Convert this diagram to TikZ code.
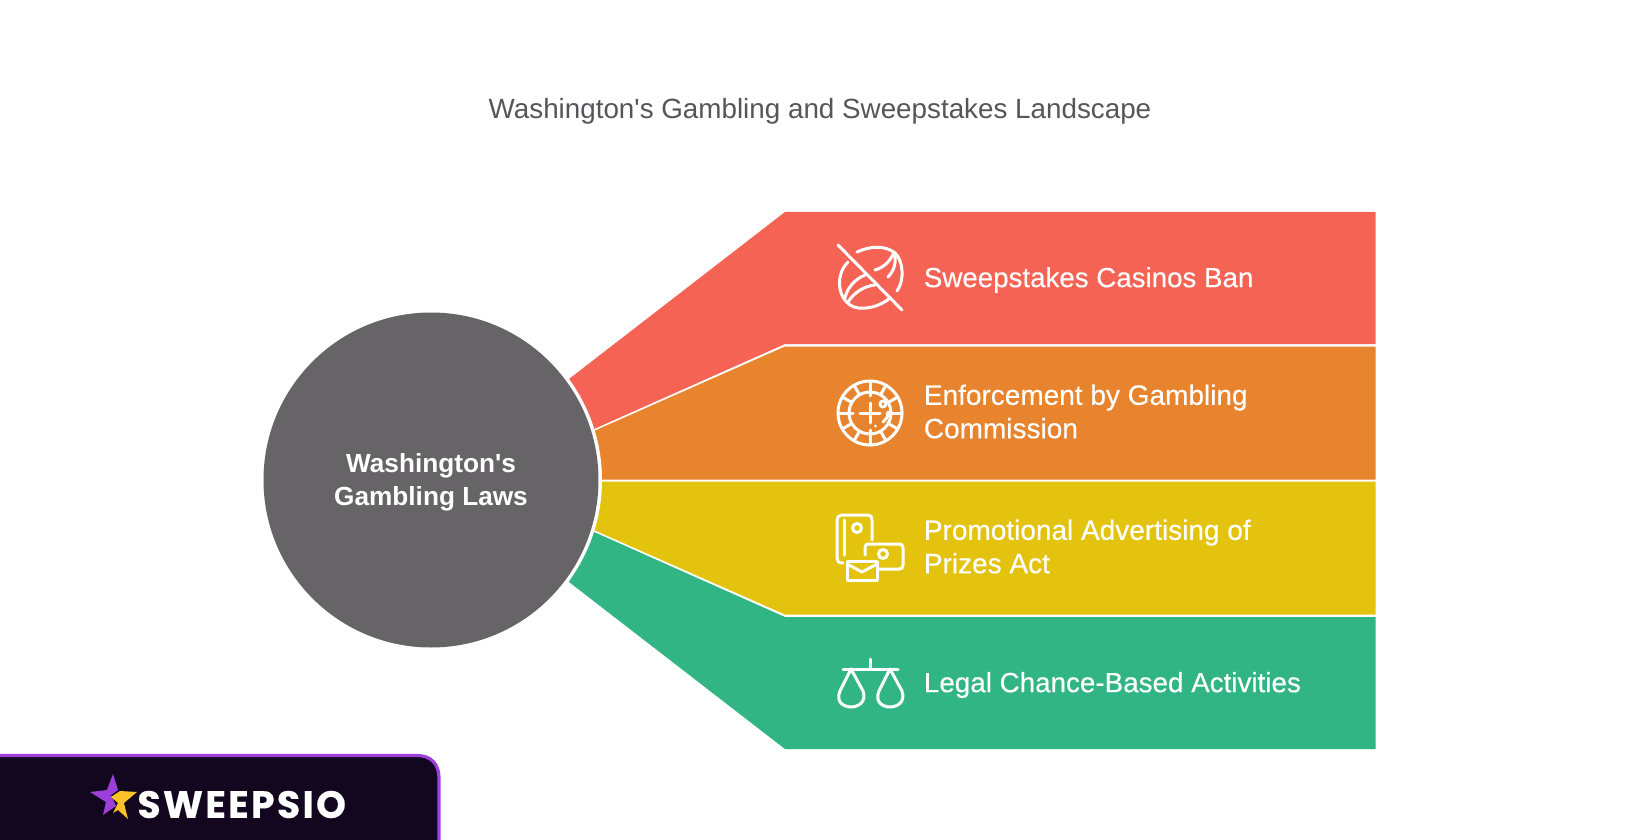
\documentclass[tikz,border=0pt]{standalone}
\usepackage{fontspec}
\usetikzlibrary{calc}
\setmainfont{Liberation Sans}[Ligatures=TeXOff]
\newfontfamily\medfont{Liberation Sans}[Ligatures=TeXOff,FakeBold=0.35]
\newfontfamily\logofont{Poppins}[BoldFont={* Bold},LetterSpace=6,FakeBold=0.3]
\definecolor{cred}{HTML}{F56355}
\definecolor{corange}{HTML}{E8842D}
\definecolor{cyellow}{HTML}{E4C30F}
\definecolor{cgreen}{HTML}{32B584}
\definecolor{cdark}{HTML}{666467}
\definecolor{cnavy}{HTML}{12071E}
\definecolor{cpurple}{HTML}{9C3FDB}
\definecolor{cgold}{HTML}{FDC027}
\definecolor{ctitle}{HTML}{565559}
\tikzset{
  band/.style={line width=0pt},
  ico/.style={draw=white,line width=1.5pt,line cap=round,line join=round},
  lab/.style={anchor=west,align=left,text=white,font=\medfont\fontsize{14}{16.7}\selectfont,inner sep=0pt},
}
\begin{document}
\begin{tikzpicture}[x=0.5pt,y=-0.5pt]
\useasboundingbox (0,0) rectangle (1640,840);
\fill[white] (0,0) rectangle (1640,840);
\node[text=ctitle,font=\fontsize{13.9}{16}\selectfont,inner sep=0pt] (title) at (820,111) {Washington's Gambling and Sweepstakes Landscape};
% bands
\fill[cred,band] (569,379) -- (785,212) -- (1375.5,212) -- (1375.5,344) -- (785,344) -- (594,429) -- cycle;
\fill[corange,band] (594,431) -- (785,346.5) -- (1375.5,346.5) -- (1375.5,479.5) -- (596,479.5) -- cycle;
\fill[cyellow,band] (596,481.5) -- (1375.5,481.5) -- (1375.5,614.5) -- (785,614.5) -- (594,530) -- cycle;
\fill[cgreen,band] (594,532) -- (785,617) -- (1375.5,617) -- (1375.5,749) -- (785,749) -- (569,582) -- cycle;
\fill[white] (431,480) circle[radius=171];
\node[circle,fill=cdark,minimum size=167.5pt,inner sep=0pt] (hub) at (431,480) {};
\node[text=white,align=center,inner sep=0pt,font=\fontsize{13.1}{16.7}\selectfont\bfseries] (hubtext) at (431,482.5) {Washington's\\Gambling Laws};
% labels
\node[lab,font=\medfont\fontsize{13.85}{16.7}\selectfont] (l1) at (923.5,280) {Sweepstakes Casinos Ban};
\node[lab] (l2) at (923.5,411.5) {Enforcement by Gambling\\Commission};
\node[lab] (l3) at (923.5,546.5) {Promotional Advertising of\\Prizes Act};
\node[lab,font=\medfont\fontsize{13.9}{16.7}\selectfont] (l4) at (923.5,685) {Legal Chance-Based Activities};
% icon 1
\draw[ico] (838,245) -- (902,310);
\draw[ico] (857,252) .. controls (870,246) and (885,245) .. (895,253) .. controls (903,260) and (905,280) .. (897,291);
\draw[ico] (890,298) .. controls (880,307) and (860,312) .. (850,305) .. controls (838,297) and (835,275) .. (848,262);
\draw[ico] (845,298) .. controls (847,288) and (855,279) .. (865,275);
\draw[ico] (848,302) .. controls (853,294) and (863,286) .. (875,285);
\draw[ico] (875,270) .. controls (885,267) and (891,260) .. (894,252);
\draw[ico] (894,252) .. controls (897,262) and (894,271) .. (888,277);
% icon 2
\draw[ico] (870,413) circle[radius=32];
\draw[ico] (870,413) circle[radius=21];
\foreach \a in {30,60,120,150,210,240,300,330}
  \draw[ico] ($(870,413)+(\a:21)$) -- ($(870,413)+(\a:32)$);
\draw[ico] (870,381) -- (870,396) (870,430) -- (870,445) (838,413) -- (853,413) (887,413) -- (902,413);
\draw[ico] (870,403) -- (870,423) (860,413) -- (880,413);
\draw[ico] (883,404) circle[radius=3];
\draw[ico] (888,412) .. controls (888,417) and (886,420) .. (883,422);
\draw[ico] (875,426) -- (875,426.1);
% icon 3
\draw[ico] (843,563) .. controls (838,563) and (837,561) .. (837,558) -- (837,521) .. controls (837,517) and (839,515) .. (842,515) -- (868,515) .. controls (871,515) and (872,517) .. (872,520) -- (872,540);
\draw[ico] (844,520) -- (844,555);
\draw[ico] (857,528) circle[radius=4.5];
\draw[ico] (865,555) -- (865,548) .. controls (865,545) and (866,544) .. (869,544) -- (899,544) .. controls (902,544) and (903,545) .. (903,548) -- (903,565) .. controls (903,568) and (902,569) .. (899,569) -- (879,569);
\draw[ico] (883,554) circle[radius=4.5];
\draw[ico] (847,561) rectangle (877,580);
\draw[ico] (847,564) -- (862,572) -- (877,564);
% icon 4
\draw[ico] (870,659) -- (870,669);
\draw[ico] (843,669) -- (898,669);
\draw[ico] (851,669) -- (840,691) .. controls (835,703) and (845,707) .. (851,707) .. controls (857,707) and (867,703) .. (863,691) -- cycle;
\draw[ico] (890,669) -- (879,691) .. controls (874,703) and (884,707) .. (890,707) .. controls (896,707) and (906,703) .. (902,691) -- cycle;
% logo
\draw[cpurple,fill=cnavy,line width=1.6pt] (-10,755.5) -- (417,755.5) .. controls (431,755.5) and (439,764) .. (439,778) -- (439,850) -- (-10,850) -- cycle;
\fill[cpurple] (113,774) -- (118,790) -- (111,795) -- (116,806) -- (103,815) -- (106,802) -- (90,792) -- (107,790) -- cycle;
\fill[cgold] (137,792) -- (124,803) -- (128,819) -- (118,810) -- (113,813) -- (118,803) -- (111,797) -- (120,791) -- cycle;
\node[anchor=west,text=white,inner sep=0pt,font=\logofont\fontsize{19}{22}\selectfont\bfseries] (logo) at (137,804.5) {SWEEPSIO};
\end{tikzpicture}
\end{document}
